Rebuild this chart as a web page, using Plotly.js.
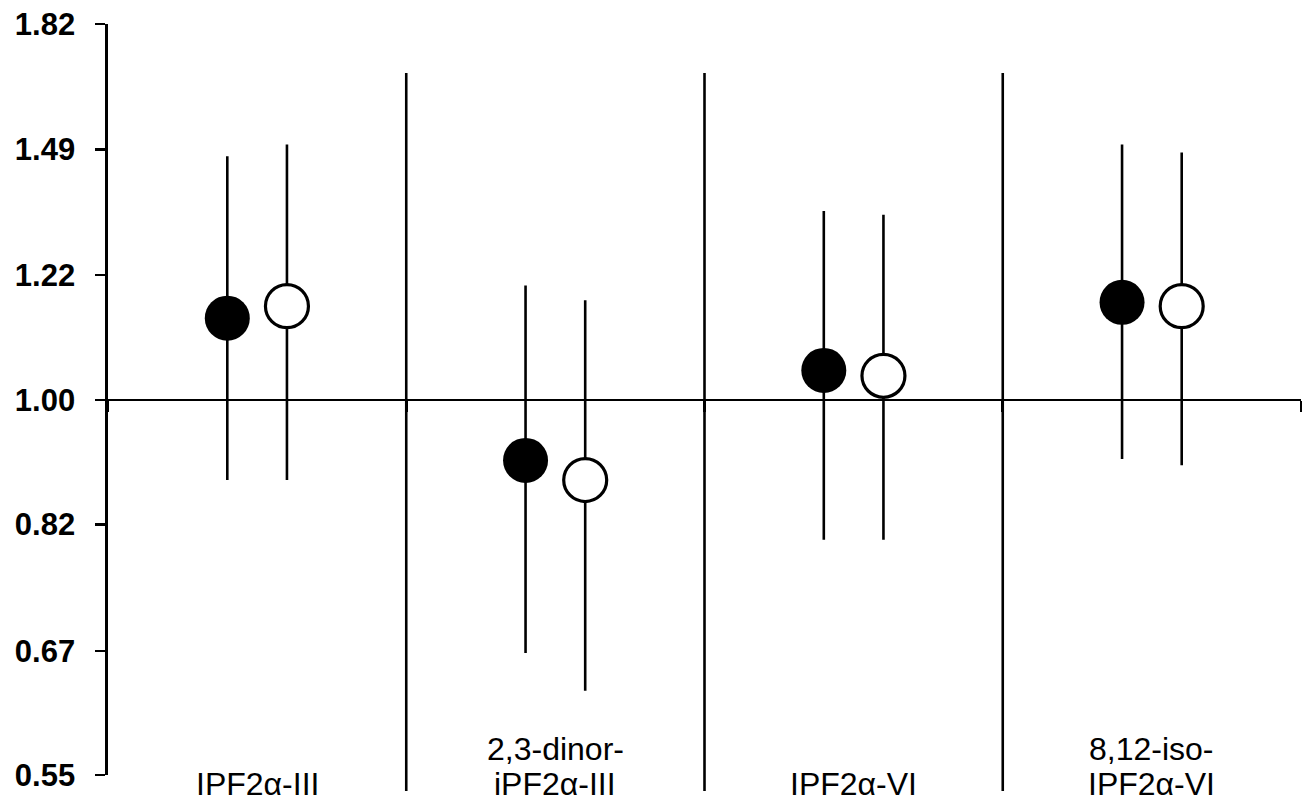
<!DOCTYPE html>
<html>
<head>
<meta charset="utf-8">
<script src="https://cdn.plot.ly/plotly-3.0.1.min.js"></script>
<style>html,body{margin:0;padding:0;background:#fff;}#chart{width:1315px;height:804px;}</style>
</head>
<body>
<div id="chart"></div>
<script>
var categories = ['IPF2α-III', '2,3-dinor-<br>iPF2α-III', 'IPF2α-VI', '8,12-iso-<br>IPF2α-VI'];
var filledValues = [1.139, 0.908, 1.048, 1.168];
var filledLower  = [0.880, 0.668, 0.800, 0.910];
var filledUpper  = [1.474, 1.200, 1.351, 1.502];
var openValues   = [1.161, 0.880, 1.039, 1.161];
var openLower    = [0.880, 0.629, 0.800, 0.901];
var openUpper    = [1.502, 1.172, 1.343, 1.483];
var yTickVals  = [0.55, 0.67, 0.82, 1.00, 1.22, 1.49, 1.82];
var yTickText  = ['0.55', '0.67', '0.82', '1.00', '1.22', '1.49', '1.82'];
var refValue = 1.0;

var FONT = 'Liberation Sans, Arial, sans-serif';
var yMin = 0.55, yMax = 1.82;

function plus(v, u) { return v.map(function (x, i) { return u[i] - x; }); }
function minus(v, l) { return v.map(function (x, i) { return x - l[i]; }); }

var traces = [
  {
    type: 'scatter', mode: 'markers', x: categories, y: filledValues,
    orientation: 'v', offsetgroup: 'a', cliponaxis: false,
    marker: {symbol: 'circle', size: 45, color: '#000', line: {width: 0}},
    error_y: {type: 'data', symmetric: false, array: plus(filledValues, filledUpper),
              arrayminus: minus(filledValues, filledLower), width: 0, thickness: 2.6, color: '#000'},
    showlegend: false, hoverinfo: 'skip'
  },
  {
    type: 'scatter', mode: 'markers', x: categories, y: openValues,
    orientation: 'v', offsetgroup: 'b', cliponaxis: false,
    marker: {symbol: 'circle', size: 43, color: '#fff', line: {width: 3.2, color: '#000'}},
    error_y: {type: 'data', symmetric: false, array: plus(openValues, openUpper),
              arrayminus: minus(openValues, openLower), width: 0, thickness: 2.6, color: '#000'},
    showlegend: false, hoverinfo: 'skip'
  }
];

var logMin = Math.log10(yMin), logMax = Math.log10(yMax);
var refPos = (Math.log10(refValue) - logMin) / (logMax - logMin);

var annotations = [];
categories.forEach(function (c) {
  var lines = c.split('<br>');
  lines.forEach(function (ln, j) {
    var k = lines.length - 1 - j;
    annotations.push({x: c, xref: 'x', y: -0.0386, yref: 'paper', yanchor: 'bottom', xanchor: 'center',
      yshift: k * 35, text: ln, showarrow: false, font: {family: FONT, size: 32, color: '#000'}});
  });
});

var shapes = [0.25, 0.5, 0.75].map(function (px) {
  return {type: 'line', xref: 'paper', yref: 'paper', x0: px, x1: px, y0: -0.0213, y1: 0.9348,
          line: {color: '#000', width: 2.6}};
});

var layout = {
  width: 1315, height: 804,
  margin: {l: 108, r: 14, t: 24, b: 29},
  paper_bgcolor: '#fff', plot_bgcolor: '#fff',
  scattermode: 'group', scattergap: 0.6,
  showlegend: false,
  xaxis: {
    type: 'category', range: [-0.5, 3.5], anchor: 'free', position: refPos,
    showline: true, linecolor: '#000', linewidth: 2.6,
    ticks: 'outside', tickson: 'boundaries', ticklen: 11, tickwidth: 2.6, tickcolor: '#000',
    showticklabels: false, showgrid: false, zeroline: false, fixedrange: true
  },
  yaxis: {
    type: 'log', range: [logMin, logMax],
    tickmode: 'array', tickvals: yTickVals, ticktext: yTickText,
    showline: true, linecolor: '#000', linewidth: 2.6,
    ticks: 'outside', ticklen: 10, tickwidth: 2.6, tickcolor: '#000',
    ticklabelstandoff: 14,
    tickfont: {family: FONT, size: 31, color: '#000', weight: 'bold'},
    showgrid: false, zeroline: false, fixedrange: true
  },
  shapes: shapes,
  annotations: annotations
};

Plotly.newPlot('chart', traces, layout, {displayModeBar: false, staticPlot: true});
</script>
</body>
</html>
